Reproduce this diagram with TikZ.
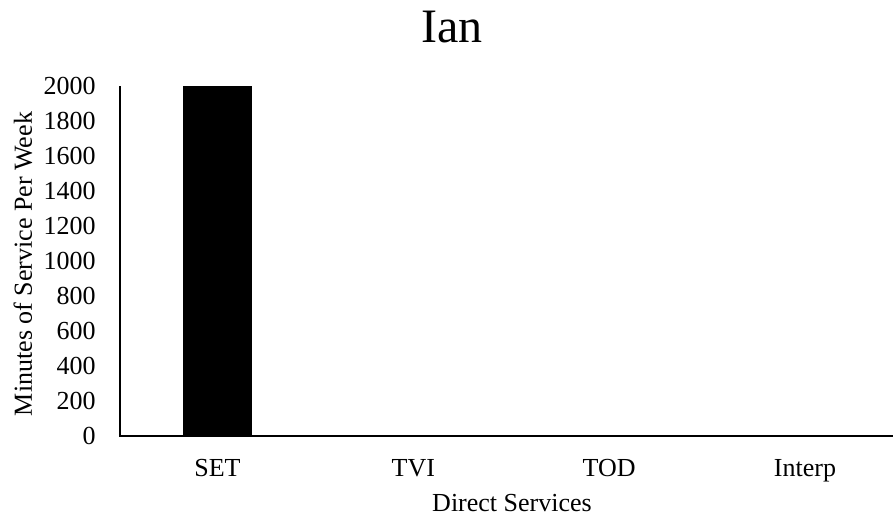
\documentclass[tikz,border=0pt]{standalone}
\usepackage{fontspec}
\setmainfont{Liberation Serif}
\begin{document}
\begin{tikzpicture}[x=0.75pt,y=-0.75pt,
  labfont/.style={font=\fontsize{19.5}{19.5}\selectfont,inner sep=0pt},
  ticklab/.style={labfont,anchor=base east},
  catlab/.style={labfont,anchor=base},
  axisline/.style={line width=1pt,black}]
\useasboundingbox (0,0) rectangle (893,525);
% chart title
\node[font=\fontsize{36}{36}\selectfont,inner sep=0pt,anchor=base] (title) at (452,42) {Ian};
% single bar (SET = 2000)
\fill[black] (183,86) rectangle (252,436);
% axes
\coordinate (origin) at (120,436);
\coordinate (ytop) at (120,86);
\coordinate (xend) at (893,436);
\draw[axisline] (ytop) -- (origin) -- (xend);
% y tick labels, 35 px per 200 minutes
\foreach \v [count=\i from 0] in {0,200,400,600,800,1000,1200,1400,1600,1800,2000}
  \node[ticklab] (t\i) at (96,{436-35*\i+8.8}) {\v};
% category labels
\node[catlab] (c1) at (217.5,476) {SET};
\node[catlab] (c2) at (413.3,476) {TVI};
\node[catlab] (c3) at (609.1,476) {TOD};
\node[catlab] (c4) at (805,476) {Interp};
% axis titles
\node[catlab] (xt) at (512,511) {Direct Services};
\node[labfont,rotate=90,anchor=center] (yt) at (23,264) {Minutes of Service Per Week};
\end{tikzpicture}
\end{document}
